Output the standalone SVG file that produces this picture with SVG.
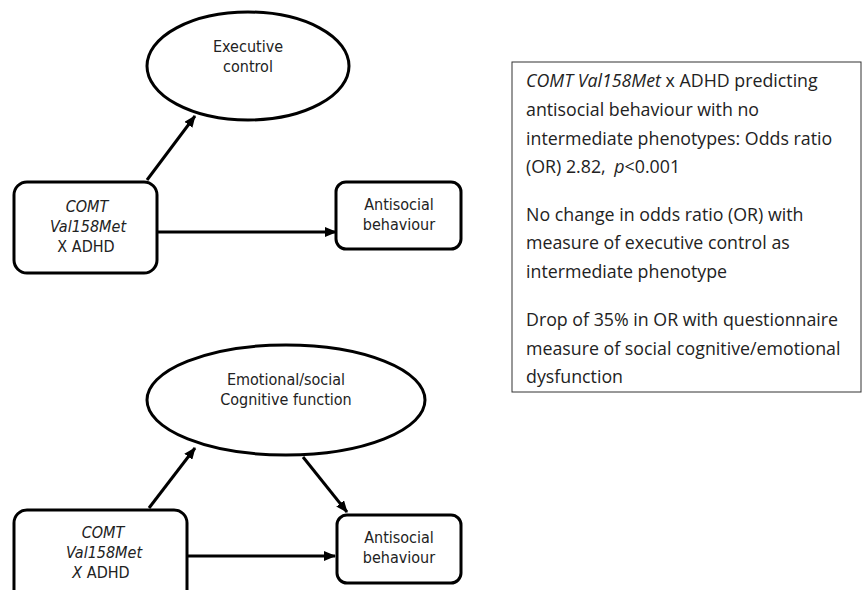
<svg xmlns="http://www.w3.org/2000/svg" width="863" height="590" viewBox="0 0 863 590">
<style>
.shape{fill:#fff;stroke:#000;stroke-width:3}
.conn{fill:none;stroke:#000;stroke-width:3}
.nt{font-family:"DejaVu Sans Condensed","DejaVu Sans",sans-serif;font-stretch:condensed;font-size:16px;fill:#222;text-anchor:middle}
.bt{font-family:"Open Sans","Noto Sans",sans-serif;font-size:17.8px;fill:#222}
.it{font-style:italic}
</style>
<defs>
<marker id="ah" viewBox="0 0 12 10" refX="11" refY="5" markerWidth="12" markerHeight="10" markerUnits="userSpaceOnUse" orient="auto">
<path d="M0,0 L12,5 L0,10 Z" fill="#000"/>
</marker>
</defs>
<g id="connectors">
<line class="conn" x1="147" y1="180" x2="195" y2="116" marker-end="url(#ah)"/>
<line class="conn" x1="157" y1="232" x2="336" y2="232" marker-end="url(#ah)"/>
<line class="conn" x1="149" y1="508" x2="195" y2="448" marker-end="url(#ah)"/>
<line class="conn" x1="303" y1="457" x2="347" y2="512" marker-end="url(#ah)"/>
<line class="conn" x1="187" y1="556" x2="335" y2="556" marker-end="url(#ah)"/>
</g>
<g id="exec-control">
<ellipse class="shape" cx="248" cy="66" rx="101" ry="54"/>
<text class="nt" x="248" y="52">Executive</text>
<text class="nt" x="248" y="72">control</text>
</g>
<g id="comt-top">
<rect class="shape" x="14" y="182" width="143" height="91" rx="13"/>
<text class="nt it" x="87" y="212">COMT</text>
<text class="nt it" x="88" y="232">Val158Met</text>
<text class="nt" x="86" y="252">X ADHD</text>
</g>
<g id="antisocial-top">
<rect class="shape" x="336" y="182" width="125" height="67" rx="10"/>
<text class="nt" x="399" y="210">Antisocial</text>
<text class="nt" x="399" y="230">behaviour</text>
</g>
<g id="emo-social">
<ellipse class="shape" cx="286" cy="400" rx="139" ry="55"/>
<text class="nt" x="286" y="385">Emotional/social</text>
<text class="nt" x="286" y="405">Cognitive function</text>
</g>
<g id="comt-bottom">
<rect class="shape" x="14" y="510" width="173" height="100" rx="13"/>
<text class="nt it" x="103" y="538">COMT</text>
<text class="nt it" x="104" y="558">Val158Met</text>
<text class="nt" x="101" y="578"><tspan class="it">X</tspan> ADHD</text>
</g>
<g id="antisocial-bottom">
<rect class="shape" x="337" y="515" width="124" height="68" rx="10"/>
<text class="nt" x="399" y="543">Antisocial</text>
<text class="nt" x="399" y="563">behaviour</text>
</g>
<g id="summary">
<rect x="512" y="62" width="349" height="330" fill="#fff" stroke="#333" stroke-width="1"/>
<text class="bt" x="526" y="87"><tspan class="it">COMT Val158Met</tspan> x ADHD predicting</text>
<text class="bt" x="526" y="116">antisocial behaviour with no</text>
<text class="bt" x="526" y="145">intermediate phenotypes: Odds ratio</text>
<text class="bt" x="526" y="173">(OR) 2.82, <tspan class="it" dx="4">p</tspan>&lt;0.001</text>
<text class="bt" x="526" y="221">No change in odds ratio (OR) with</text>
<text class="bt" x="526" y="249">measure of executive control as</text>
<text class="bt" x="526" y="278">intermediate phenotype</text>
<text class="bt" x="526" y="326">Drop of 35% in OR with questionnaire</text>
<text class="bt" x="526" y="355">measure of social cognitive/emotional</text>
<text class="bt" x="526" y="383">dysfunction</text>
</g>
</svg>
